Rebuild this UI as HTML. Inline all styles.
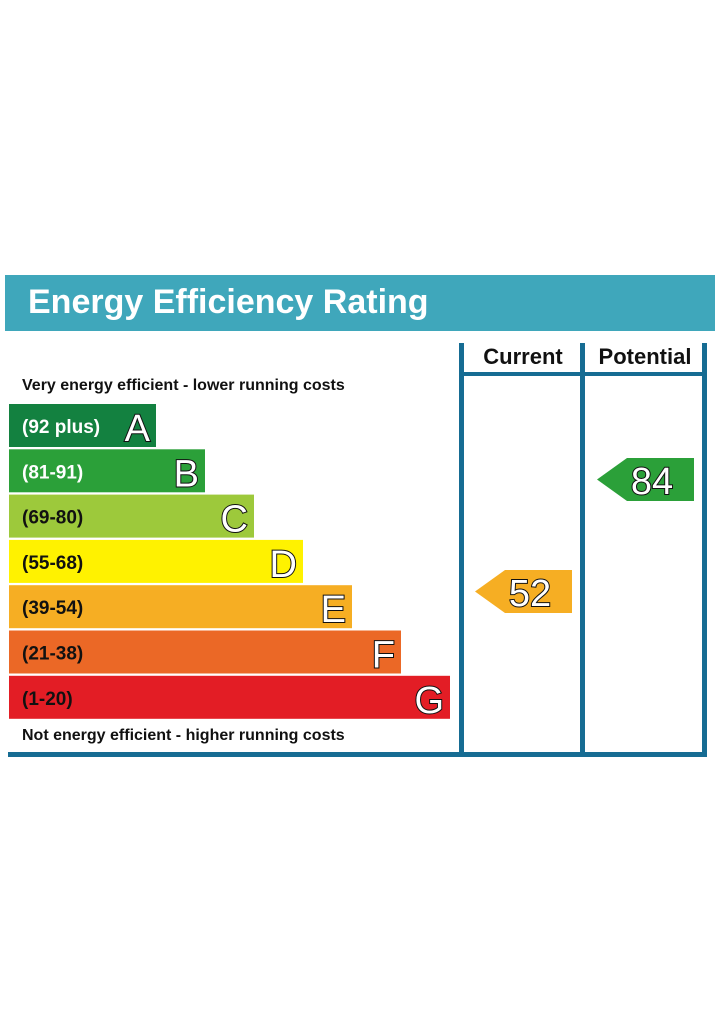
<!DOCTYPE html>
<html><head><meta charset="utf-8"><style>
html,body{margin:0;padding:0;background:#fff;}
svg{display:block;font-family:"Liberation Sans",sans-serif;}
</style></head><body>
<svg width="715" height="1033" viewBox="0 0 715 1033">
<rect x="5" y="275" width="710" height="56" fill="#3fa7bb"/>
<text x="28" y="313" font-size="34" font-weight="bold" fill="#fff">Energy Efficiency Rating</text>
<g fill="#166c93">
<rect x="459" y="343" width="5" height="412"/>
<rect x="580" y="343" width="5" height="412"/>
<rect x="702" y="343" width="5" height="412"/>
<rect x="459" y="372" width="248" height="4"/>
<rect x="8" y="752" width="699" height="5"/>
</g>
<text x="523" y="364" font-size="22" font-weight="bold" text-anchor="middle" fill="#111">Current</text>
<text x="645" y="364" font-size="22" font-weight="bold" text-anchor="middle" fill="#111">Potential</text>
<text x="22" y="390" font-size="16" font-weight="bold" fill="#111">Very energy efficient - lower running costs</text>
<text x="22" y="740" font-size="16" font-weight="bold" fill="#111">Not energy efficient - higher running costs</text>
<g id="bars"></g>
<g id="arrows"></g>
</svg>
<script>
const bandLetters=["A","B","C","D","E","F","G"];
const bandRanges=["(92 plus)","(81-91)","(69-80)","(55-68)","(39-54)","(21-38)","(1-20)"];
const bandColors=["#138140","#2ba039","#9dc93b","#fff200","#f6ae23","#eb6826","#e31d25"];
const currentScore=[52];
const potentialScore=[84];
const NS="http://www.w3.org/2000/svg";
const bars=document.getElementById("bars");
function bandY(i){return 404+i*45.3;}
function bandW(i){return 147+i*49;}
function el(t,a){const e=document.createElementNS(NS,t);for(const k in a)e.setAttribute(k,a[k]);return e;}
bandLetters.forEach((L,i)=>{
  const g=el("g",{});
  
  
  g.appendChild(el("rect",{x:9,y:bandY(i),width:bandW(i),height:43,fill:bandColors[i]}));
  const t=el("text",{x:22,y:bandY(i)+29,"font-size":19,"font-weight":"bold",fill:i<2?"#fff":"#111"});
  t.textContent=bandRanges[i];g.appendChild(t);
  const l=el("text",{x:9+bandW(i)-6,y:bandY(i)+37,"font-size":38,"text-anchor":"end",fill:"#fff",stroke:"#111","stroke-width":2,"paint-order":"stroke"});
  l.textContent=L;g.appendChild(l);
  bars.appendChild(g);
});
function scoreY(s){return 458+(84-s)*3.5;}
function bandOf(s){return s>=92?0:s>=81?1:s>=69?2:s>=55?3:s>=39?4:s>=21?5:6;}
function arrow(s,x0,name){
  const y=scoreY(s),c=bandColors[bandOf(s)];
  const g=el("g",{});
  
  
  g.appendChild(el("polygon",{points:`${x0},${y+21.5} ${x0+30},${y} ${x0+97},${y} ${x0+97},${y+43} ${x0+30},${y+43}`,fill:c}));
  const t=el("text",{x:x0+55,y:y+36,"font-size":38,"text-anchor":"middle",fill:"#fff",stroke:"#111","stroke-width":2,"paint-order":"stroke"});
  t.textContent=s;g.appendChild(t);
  document.getElementById("arrows").appendChild(g);
}
arrow(currentScore[0],475,"current-rating-arrow");
arrow(potentialScore[0],597,"potential-rating-arrow");
</script>
</body></html>
